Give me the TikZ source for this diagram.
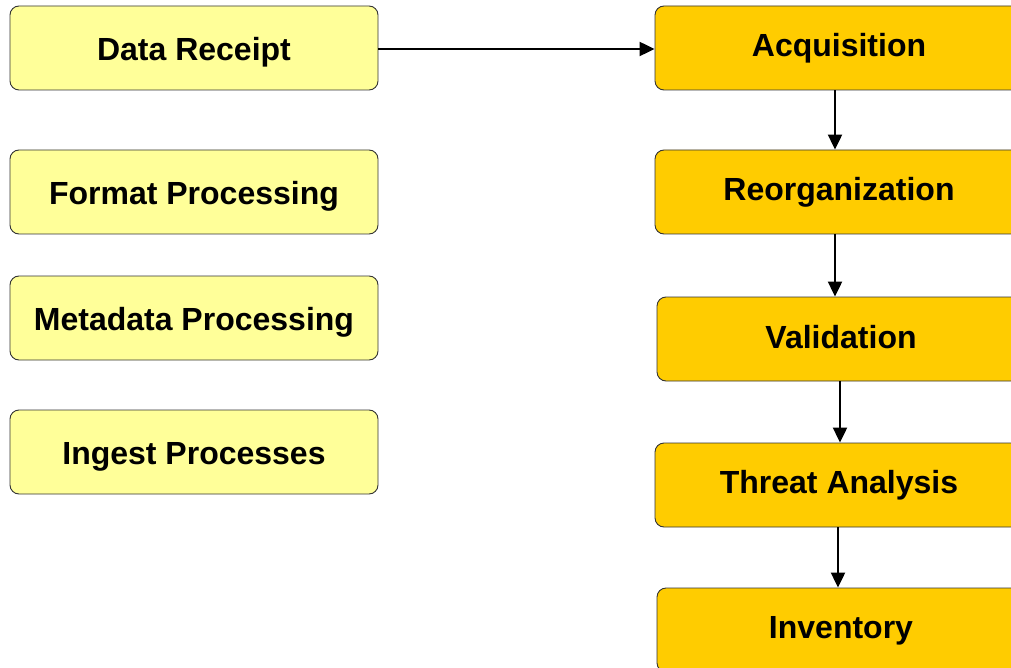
\documentclass[tikz,border=0pt]{standalone}
\usepackage{fontspec}
\setmainfont{Liberation Sans}
\usetikzlibrary{arrows.meta}
\definecolor{paleyellow}{HTML}{FFFF99}
\definecolor{gold}{HTML}{FFCC00}
\tikzset{
  stage/.style={draw=black!80, line width=0.9pt, rounded corners=9pt,
    minimum width=368pt, minimum height=84pt, inner sep=0pt,
    text height=23pt, text depth=7pt,
    font=\fontsize{32}{36}\selectfont\bfseries},
  lstage/.style={stage, fill=paleyellow},
  rstage/.style={stage, fill=gold},
  flow/.style={-{Triangle[length=15pt,width=14pt]}, line width=2.2pt}
}
\begin{document}
\begin{tikzpicture}[x=1pt,y=-1pt]
  \clip (0,0) rectangle (1011,668);
  \fill[white] (0,0) rectangle (1011,668);
  % left column
  \node[lstage] (receipt) at (194,48) {\raisebox{-4.5pt}{Data Receipt}};
  \node[lstage] (format) at (194,192) {\raisebox{-4.5pt}{Format Processing}};
  \node[lstage] (meta) at (194,318) {\raisebox{-4pt}{Metadata Processing}};
  \node[lstage] (ingest) at (194,452) {\raisebox{-4pt}{Ingest Processes}};
  % right column
  \node[rstage] (acq) at (839,48) {\raisebox{-1pt}{Acquisition}};
  \node[rstage] (reorg) at (839,192) {\raisebox{-1pt}{Reorganization}};
  \node[rstage] (valid) at (841,339) {\raisebox{-1pt}{Validation}};
  \node[rstage] (threat) at (839,485) {Threat Analysis};
  \node[rstage] (inv) at (841,630) {Inventory};
  % connectors
  \draw[flow] ([yshift=-1pt]receipt.east) -- ([yshift=-1pt]receipt.east -| acq.west);
  \draw[flow] ([xshift=-4pt]acq.south) -- ([xshift=-4pt]acq.south |- reorg.north);
  \draw[flow] ([xshift=-4pt]reorg.south) -- ([xshift=-4pt]reorg.south |- valid.north);
  \draw[flow] ([xshift=-1pt]valid.south) -- ([xshift=-1pt]valid.south |- threat.north);
  \draw[flow] ([xshift=-1pt]threat.south) -- ([xshift=-1pt]threat.south |- inv.north);
\end{tikzpicture}
\end{document}
